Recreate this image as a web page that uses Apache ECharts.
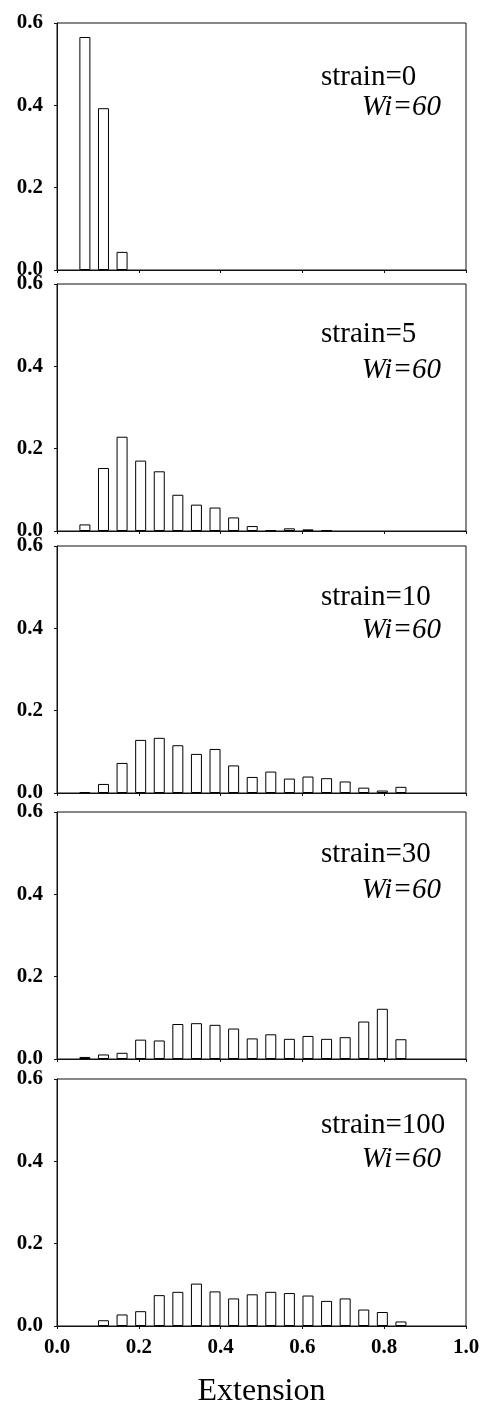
<!DOCTYPE html>
<html><head><meta charset="utf-8">
<script src="https://cdn.jsdelivr.net/npm/echarts@6/dist/echarts.min.js"></script>
<style>html,body{margin:0;padding:0;background:#fff;}#c{width:483px;height:1418px;}</style>
</head><body><div id="c"></div>
<script>
// Histogram of extension, 22 bins of equal width on [0,1]
const binCount = 22;
const binCenters = Array.from({length: binCount}, (_, i) => (i + 0.5) / binCount);
const panelLabels = ['strain=0', 'strain=5', 'strain=10', 'strain=30', 'strain=100'];
const wiLabel = 'Wi=60';
const xTicks = [0.0, 0.2, 0.4, 0.6, 0.8, 1.0];
const yTicks = [0.0, 0.2, 0.4, 0.6];
const xTitle = 'Extension';

const strain0   = [0, 0.566, 0.393, 0.044, 0, 0, 0, 0, 0, 0, 0, 0, 0, 0, 0, 0, 0, 0, 0, 0, 0, 0];
const strain5   = [0, 0.016, 0.153, 0.229, 0.171, 0.145, 0.088, 0.064, 0.057, 0.033, 0.012, 0.002, 0.0065, 0.004, 0.0015, 0, 0, 0, 0, 0, 0, 0];
const strain10  = [0, 0.002, 0.022, 0.073, 0.129, 0.134, 0.116, 0.095, 0.107, 0.067, 0.039, 0.052, 0.035, 0.040, 0.036, 0.028, 0.013, 0.006, 0.015, 0, 0, 0];
const strain30  = [0, 0.005, 0.011, 0.015, 0.047, 0.045, 0.085, 0.087, 0.083, 0.074, 0.050, 0.060, 0.049, 0.056, 0.049, 0.053, 0.091, 0.122, 0.048, 0, 0, 0];
const strain100 = [0, 0, 0.014, 0.028, 0.036, 0.075, 0.083, 0.103, 0.084, 0.067, 0.077, 0.083, 0.080, 0.074, 0.061, 0.067, 0.040, 0.034, 0.011, 0, 0, 0];
const panels = [strain0, strain5, strain10, strain30, strain100];

// layout
const gridTops = [23, 284, 546, 812, 1079];
const gridH = 247;
const gridLeft = 57, gridRight = 17;
const strainY = [80, 337, 600, 857, 1128];
const wiY = [110, 373, 633, 893, 1162];

const serif = 'Liberation Serif, Times New Roman, serif';
const grids = [], xAxes = [], yAxes = [], series = [], graphics = [];
panels.forEach((vals, p) => {
  grids.push({left: gridLeft, right: gridRight, top: gridTops[p], height: gridH,
    show: true, borderColor: '#111', borderWidth: 1, backgroundColor: 'transparent'});
  const last = p === panels.length - 1;
  xAxes.push({type: 'value', gridIndex: p, min: xTicks[0], max: xTicks[xTicks.length - 1], interval: 0.2,
    axisLine: {show: true, lineStyle: {color: '#111', width: 1}},
    axisTick: {show: true, length: 3, lineStyle: {color: '#111'}},
    splitLine: {show: false},
    axisLabel: {show: last, formatter: v => v.toFixed(1), fontFamily: serif, fontWeight: 'bold', fontSize: 21, color: '#000', margin: 11},
    name: last ? xTitle : '', nameLocation: 'middle', nameGap: 50,
    nameTextStyle: {fontFamily: serif, fontSize: 32, color: '#000'}});
  yAxes.push({type: 'value', gridIndex: p, min: yTicks[0], max: yTicks[yTicks.length - 1], interval: 0.2,
    axisLine: {show: true, lineStyle: {color: '#111', width: 1}},
    axisTick: {show: true, length: 3, lineStyle: {color: '#111'}},
    splitLine: {show: false},
    axisLabel: {formatter: v => v.toFixed(1), fontFamily: serif, fontWeight: 'bold', fontSize: 21, color: '#000', margin: 14}});
  series.push({type: 'bar', xAxisIndex: p, yAxisIndex: p, barWidth: 11,
    itemStyle: {color: '#fff', borderColor: '#000', borderWidth: 1},
    data: binCenters.map((c, i) => [c, vals[i]]).filter(d => d[1] > 0),
    animation: false, silent: true});
  graphics.push({type: 'text', left: 321, top: strainY[p] - 17,
    style: {text: panelLabels[p], font: '29px ' + serif, fill: '#000'}});
  graphics.push({type: 'text', right: 42, top: wiY[p] - 17,
    style: {text: wiLabel, font: 'italic 29px ' + serif, fill: '#000'}});
});

const chart = echarts.init(document.getElementById('c'), null, {renderer: 'canvas'});
chart.setOption({animation: false, grid: grids, xAxis: xAxes, yAxis: yAxes, series: series, graphic: graphics});
</script></body></html>
